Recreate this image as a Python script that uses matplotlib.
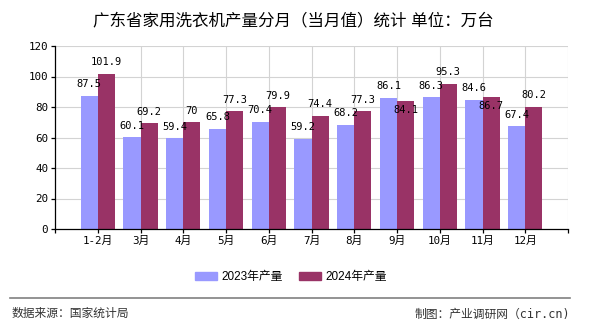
import numpy as np
import matplotlib
matplotlib.use('Agg')
import matplotlib.pyplot as plt
from matplotlib.patches import Patch

months = ['1-2月', '3月', '4月', '5月', '6月', '7月', '8月', '9月', '10月', '11月', '12月']
val_2023 = [87.5, 60.1, 59.4, 65.8, 70.4, 59.2, 68.2, 86.1, 86.3, 84.6, 67.4]
val_2024 = [101.9, 69.2, 70, 77.3, 79.9, 74.4, 77.3, 84.1, 95.3, 86.7, 80.2]
series_names = ['2023年产量', '2024年产量']
yticks = [0, 20, 40, 60, 80, 100, 120]

c23 = '#9999FF'
c24 = '#993366'
mono = ['DejaVu Sans Mono', 'Noto Sans CJK SC']
cjk = ['Liberation Sans', 'Noto Sans CJK SC']

fig = plt.figure(figsize=(5.9, 3.3), dpi=100)
ax = fig.add_axes([55/590, 1-229/330, (568-55)/590, (229-46)/330])

x = np.arange(len(months))
w = 0.4
ax.bar(x - w/2, val_2023, w, color=c23, zorder=2)
ax.bar(x + w/2, val_2024, w, color=c24, zorder=2)

# rasterline
for yv in yticks[1:]:
    ax.axhline(yv, color='#d3d3d3', lw=0.8, zorder=0)
for xv in range(1, len(months)+1):
    ax.axvline(xv, color='#d3d3d3', lw=0.8, zorder=0)

ax.set_xlim(-1, len(months))
ax.set_ylim(0, 120)
ax.set_yticks(yticks)
ax.set_xticks(range(-1, len(months)+1))
ax.set_xticklabels([''] + months + [''])

for s in ['top', 'right']:
    ax.spines[s].set_visible(False)
ax.spines['left'].set_color('black')
ax.spines['bottom'].set_color('black')
ax.spines['left'].set_linewidth(0.9)
ax.spines['bottom'].set_linewidth(0.9)
ax.tick_params(axis='both', length=3, width=0.9, color='black', pad=2)
for lb in ax.get_xticklabels() + ax.get_yticklabels():
    lb.set_family(mono)
    lb.set_fontsize(7.8)

# datalabels, 2024 label goes under the bar top when the two are too close
for i in range(len(months)):
    ax.annotate(str(val_2023[i]), (x[i] - w/2, val_2023[i]), xytext=(0, 8.5),
                textcoords='offset pixels', ha='center', va='baseline',
                fontsize=7.5, family=mono, zorder=5)
    dy = 8.5
    if abs(val_2023[i] - val_2024[i]) < 3:
        dy = -12
    ax.annotate(str(val_2024[i]), (x[i] + w/2, val_2024[i]), xytext=(0, dy),
                textcoords='offset pixels', ha='center', va='baseline',
                fontsize=7.5, family=mono, zorder=5)

fig.text(0.497, 1-20/330, '广东省家用洗衣机产量分月（当月值）统计 单位：万台',
         ha='center', va='center', fontsize=11.9, family=cjk)

handles = [Patch(color=c23), Patch(color=c24)]
fig.legend(handles, series_names, loc='center', bbox_to_anchor=(291/590, 1-277/330),
           ncol=2, frameon=False, prop={'family': cjk, 'size': 8.5},
           handlelength=1.86, handleheight=0.76, handletextpad=0.42,
           columnspacing=1.35, borderpad=0)

fig.add_artist(plt.Line2D([10/590, 570/590], [1-298/330, 1-298/330],
                          color='#808080', lw=1.2, transform=fig.transFigure))
fig.text(12/590, 1-314/330, '数据来源：国家统计局', ha='left', va='center',
         fontsize=8.5, family=cjk, color='#333333')
fig.text(570/590, 1-314/330, '制图：产业调研网（cir.cn)', ha='right', va='center',
         fontsize=8.5, family=mono, color='#333333')

fig.savefig('out.png', dpi=100)
